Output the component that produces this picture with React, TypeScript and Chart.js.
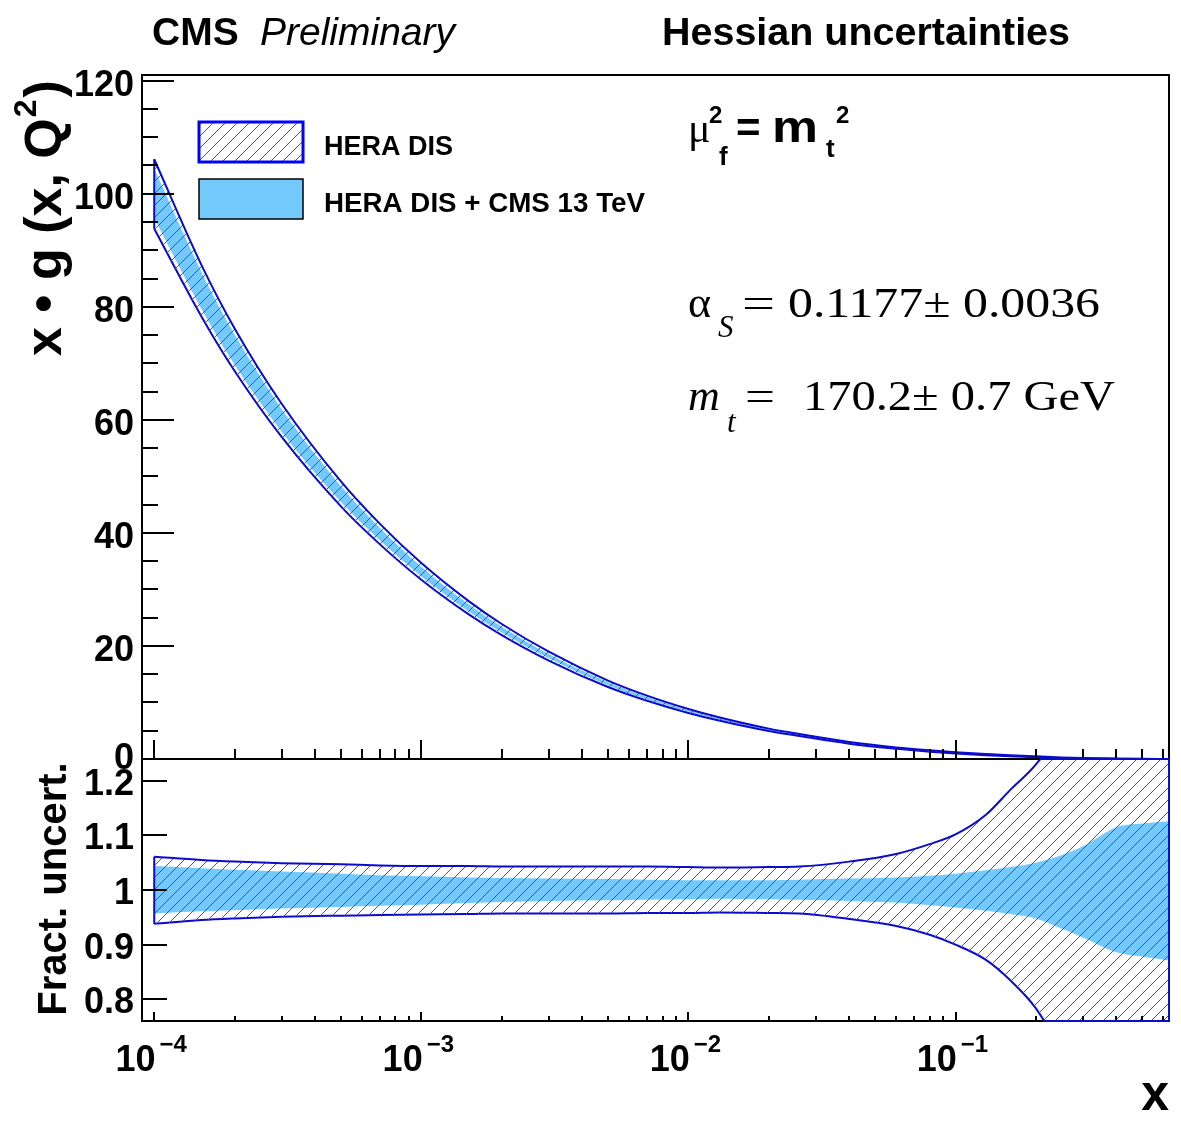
import React, { useEffect, useRef } from "react";
import { Chart, registerables } from "chart.js";
Chart.register(...registerables);

const W = 1181;
const H = 1133;

// ---- data ----
const xValues = [1e-4, 1.5e-4, 2e-4, 3e-4, 5e-4, 7e-4, 1e-3, 1.5e-3, 2e-3, 3e-3, 5e-3, 7e-3, 1e-2, 1.3e-2, 2e-2, 2.6e-2, 4e-2, 6e-2, 8e-2, 0.1, 0.13, 0.16, 0.2, 0.25, 0.3, 0.4, 0.5, 0.63];
const xgCentral = [100, 82.9, 72.4, 59.9, 46.9, 39.8, 33.2, 26.8, 22.9, 18.2, 13.3, 10.75, 8.49, 7.09, 5.16, 4.25, 2.87, 1.93, 1.42, 1.09, 0.77, 0.56, 0.38, 0.22, 0.13, 0.045, 0.016, 0.005];
const heraUp = [1.061, 1.055, 1.052, 1.049, 1.047, 1.045, 1.044, 1.044, 1.043, 1.043, 1.043, 1.043, 1.042, 1.041, 1.042, 1.043, 1.052, 1.066, 1.084, 1.102, 1.138, 1.183, 1.23, 1.3, 1.4, 1.55, 1.7, 1.85];
const heraDown = [0.938, 0.945, 0.948, 0.951, 0.953, 0.954, 0.955, 0.956, 0.957, 0.957, 0.957, 0.958, 0.958, 0.959, 0.958, 0.957, 0.947, 0.934, 0.918, 0.9, 0.872, 0.835, 0.783, 0.7, 0.6, 0.45, 0.3, 0.15];
const cmsUp = [1.044, 1.04, 1.037, 1.034, 1.03, 1.027, 1.025, 1.023, 1.022, 1.021, 1.02, 1.019, 1.018, 1.018, 1.018, 1.019, 1.021, 1.023, 1.026, 1.03, 1.036, 1.042, 1.05, 1.064, 1.08, 1.115, 1.122, 1.126];
const cmsDown = [0.957, 0.961, 0.963, 0.966, 0.969, 0.971, 0.973, 0.976, 0.978, 0.98, 0.981, 0.982, 0.983, 0.984, 0.983, 0.982, 0.98, 0.977, 0.972, 0.968, 0.962, 0.956, 0.948, 0.929, 0.913, 0.886, 0.878, 0.871];

// axes / ticks
const xMin = 9e-5;
const xMax = 0.63;
const xMajorTicks = [1e-4, 1e-3, 1e-2, 1e-1];
const xMajorExp = ["\u22124", "\u22123", "\u22122", "\u22121"];
const xDecades = [-5, -4, -3, -2, -1, 0];
const xMinorMult = [2, 3, 4, 5, 6, 7, 8, 9];
const yTopMin = 0;
const yTopMax = 121;
const yTopMajor = [0, 20, 40, 60, 80, 100, 120];
const yTopMinor = [5, 10, 15, 25, 30, 35, 45, 50, 55, 65, 70, 75, 85, 90, 95, 105, 110, 115];
const yRatMin = 0.76;
const yRatMax = 1.24;
const yRatMajor = [0.8, 0.9, 1.0, 1.1, 1.2];
const yRatLabels = ["0.8", "0.9", "1", "1.1", "1.2"];

const legendLabels = ["HERA DIS", "HERA DIS + CMS 13 TeV"];

const OUTLINE = "#0b0bcc";
const HATCH_RGB = [70, 70, 255];
const BLUE = "rgb(116,201,252)";
const SANS = '"Liberation Sans", Arial, Helvetica, sans-serif';
const SERIF = '"Liberation Serif", "Times New Roman", serif';

function makeHatch(): CanvasPattern | string {
  const c = document.createElement("canvas");
  const s = 12;
  c.width = s;
  c.height = s;
  const g = c.getContext("2d")!;
  const img = g.createImageData(s, s);
  for (let j = 0; j < s; j++) {
    for (let i = 0; i < s; i++) {
      if ((i + j) % s === s - 1) {
        const k = (j * s + i) * 4;
        img.data[k] = HATCH_RGB[0];
        img.data[k + 1] = HATCH_RGB[1];
        img.data[k + 2] = HATCH_RGB[2];
        img.data[k + 3] = 255;
      }
    }
  }
  g.putImageData(img, 0, 0);
  const p = g.createPattern(c, "repeat");
  return p || "rgb(70,70,255)";
}

function txt(
  ctx: CanvasRenderingContext2D,
  s: string,
  x: number,
  y: number,
  font: string,
  opt: { align?: CanvasTextAlign; fit?: number; color?: string } = {}
) {
  ctx.save();
  ctx.font = font;
  ctx.fillStyle = opt.color || "#000";
  ctx.textBaseline = "alphabetic";
  if (opt.fit) {
    const w = ctx.measureText(s).width;
    ctx.translate(x, y);
    ctx.scale(opt.fit / w, 1);
    ctx.textAlign = "left";
    ctx.fillText(s, 0, 0);
  } else {
    ctx.textAlign = opt.align || "left";
    ctx.fillText(s, x, y);
  }
  ctx.restore();
}

function drawXTicks(ctx: CanvasRenderingContext2D, xs: any, y: number, majLen: number, minLen: number) {
  ctx.beginPath();
  for (const d of xDecades) {
    for (const k of [1, ...xMinorMult]) {
      const v = k * Math.pow(10, d);
      if (v <= xMin * 1.001 || v >= xMax * 0.999) continue;
      const px = Math.round(xs.getPixelForValue(v));
      const len = k === 1 ? majLen : minLen;
      ctx.moveTo(px, y);
      ctx.lineTo(px, y - len);
    }
  }
  ctx.stroke();
}

function leftEdge(ctx: CanvasRenderingContext2D, chart: any) {
  const up = chart.getDatasetMeta(0).data[0];
  const dn = chart.getDatasetMeta(1).data[0];
  const { top, bottom } = chart.chartArea;
  ctx.save();
  ctx.strokeStyle = OUTLINE;
  ctx.lineWidth = 2;
  ctx.beginPath();
  ctx.moveTo(up.x, Math.max(top, up.y));
  ctx.lineTo(dn.x, Math.min(bottom, dn.y));
  ctx.stroke();
  ctx.restore();
}

const topDecor = {
  id: "topDecor",
  afterDatasetsDraw(chart: any) {
    const ctx = chart.ctx as CanvasRenderingContext2D;
    const { left, right, top, bottom } = chart.chartArea;
    const xs = chart.scales.x;
    const ys = chart.scales.y;
    leftEdge(ctx, chart);
    ctx.save();
    ctx.strokeStyle = "#000";
    ctx.lineWidth = 2;
    ctx.strokeRect(left, top, right - left, bottom - top);
    ctx.beginPath();
    for (const v of yTopMajor) {
      const py = Math.round(ys.getPixelForValue(v));
      ctx.moveTo(left, py);
      ctx.lineTo(left + 32, py);
    }
    for (const v of yTopMinor) {
      const py = Math.round(ys.getPixelForValue(v));
      ctx.moveTo(left, py);
      ctx.lineTo(left + 16, py);
    }
    ctx.stroke();
    drawXTicks(ctx, xs, bottom, 19, 10);
    ctx.restore();
    for (const v of yTopMajor) {
      const py = ys.getPixelForValue(v);
      txt(ctx, String(v), left - 8, Math.min(py + 15, 769), `bold 36px ${SANS}`, { align: "right" });
    }
    // titles
    txt(ctx, "CMS", 152, 45, `bold 39px ${SANS}`);
    txt(ctx, "Preliminary", 260, 45, `italic 39px ${SANS}`);
    txt(ctx, "Hessian uncertainties", 662, 45, `bold 39px ${SANS}`, { fit: 408 });
    // y-axis title (rotated)
    ctx.save();
    ctx.translate(61, 356);
    ctx.rotate(-Math.PI / 2);
    ctx.fillStyle = "#000";
    ctx.textBaseline = "alphabetic";
    ctx.font = `bold 52px ${SANS}`;
    const a = "x \u2022 g (x, Q";
    ctx.fillText(a, 0, 0);
    const wa = ctx.measureText(a).width;
    ctx.font = `bold 32px ${SANS}`;
    ctx.fillText("2", wa + 1, -25);
    const w2 = ctx.measureText("2").width;
    ctx.font = `bold 52px ${SANS}`;
    ctx.fillText(")", wa + w2 + 3, 0);
    ctx.restore();
    // legend
    const pat = (chart.data.datasets[0] as any).backgroundColor;
    ctx.save();
    ctx.fillStyle = "#fff";
    ctx.fillRect(199, 122, 104, 40);
    ctx.fillStyle = pat;
    ctx.fillRect(199, 122, 104, 40);
    ctx.strokeStyle = "#0000ff";
    ctx.lineWidth = 3;
    ctx.strokeRect(199, 122, 104, 40);
    ctx.fillStyle = BLUE;
    ctx.fillRect(199, 179, 104, 40);
    ctx.strokeStyle = "#000";
    ctx.lineWidth = 1.5;
    ctx.strokeRect(199, 179, 104, 40);
    ctx.restore();
    txt(ctx, legendLabels[0], 324, 155, `bold 27px ${SANS}`);
    txt(ctx, legendLabels[1], 324, 212, `bold 27px ${SANS}`, { fit: 321 });
    // mu_f^2 = m_t^2
    txt(ctx, "\u03bc", 688, 142, `42px ${SERIF}`);
    txt(ctx, "2", 709, 123, `bold 24px ${SANS}`);
    txt(ctx, "f", 719, 165, `bold 26px ${SANS}`);
    txt(ctx, "=", 736, 142, `bold 42px ${SANS}`);
    txt(ctx, "m", 772, 142, `bold 44px ${SANS}`, { fit: 46 });
    txt(ctx, "t", 826, 157, `bold 26px ${SANS}`);
    txt(ctx, "2", 836, 123, `bold 24px ${SANS}`);
    // alpha_s line
    txt(ctx, "\u03b1", 688, 317, `44px ${SERIF}`);
    txt(ctx, "S", 718, 337, `italic 31px ${SERIF}`);
    txt(ctx, "=", 742, 317, `42px ${SERIF}`, { fit: 33 });
    txt(ctx, "0.1177\u00b1 0.0036", 788, 317, `42px ${SERIF}`, { fit: 312 });
    // m_t line
    txt(ctx, "m", 688, 410, `italic 44px ${SERIF}`);
    txt(ctx, "t", 727, 432, `italic 31px ${SERIF}`);
    txt(ctx, "=", 745, 410, `42px ${SERIF}`, { fit: 30 });
    txt(ctx, "170.2\u00b1 0.7 GeV", 803, 410, `42px ${SERIF}`, { fit: 312 });
  },
};

function crossX(meta: any, yEdge: number, above: boolean): number | null {
  const pts = meta.data;
  for (let i = 1; i < pts.length; i++) {
    const p0 = pts[i - 1];
    const p1 = pts[i];
    const out0 = above ? p0.y < yEdge : p0.y > yEdge;
    const out1 = above ? p1.y < yEdge : p1.y > yEdge;
    if (!out0 && out1) {
      return p0.x + ((yEdge - p0.y) * (p1.x - p0.x)) / (p1.y - p0.y);
    }
  }
  return null;
}

const bottomDecor = {
  id: "bottomDecor",
  afterDatasetsDraw(chart: any) {
    const ctx = chart.ctx as CanvasRenderingContext2D;
    const { left, right, top, bottom } = chart.chartArea;
    const xs = chart.scales.x;
    const ys = chart.scales.y;
    leftEdge(ctx, chart);
    ctx.save();
    ctx.strokeStyle = "#000";
    ctx.lineWidth = 2;
    ctx.strokeRect(left, top, right - left, bottom - top);
    ctx.beginPath();
    for (const v of yRatMajor) {
      const py = Math.round(ys.getPixelForValue(v));
      ctx.moveTo(left, py);
      ctx.lineTo(left + 25, py);
    }
    ctx.stroke();
    drawXTicks(ctx, xs, bottom, 9, 5);
    const mUp = chart.getDatasetMeta(0);
    const mDn = chart.getDatasetMeta(1);
    const cu = crossX(mUp, top, true);
    const cd = crossX(mDn, bottom, false);
    ctx.strokeStyle = OUTLINE;
    ctx.lineWidth = 2;
    ctx.beginPath();
    if (cu !== null) {
      ctx.moveTo(cu, top);
      ctx.lineTo(right, top);
    }
    if (cd !== null) {
      ctx.moveTo(cd, bottom);
      ctx.lineTo(right, bottom);
    }
    const lu = mUp.data[mUp.data.length - 1];
    const ld = mDn.data[mDn.data.length - 1];
    ctx.moveTo(right, Math.max(top, lu.y));
    ctx.lineTo(right, Math.min(bottom, ld.y));
    ctx.stroke();
    ctx.restore();
    yRatMajor.forEach((v, i) => {
      const py = ys.getPixelForValue(v);
      txt(ctx, yRatLabels[i], left - 8, py + 14, `bold 36px ${SANS}`, { align: "right" });
    });
    ctx.save();
    xMajorTicks.forEach((v, i) => {
      const px = xs.getPixelForValue(v);
      ctx.font = `bold 36px ${SANS}`;
      const w10 = ctx.measureText("10").width;
      ctx.font = `bold 24px ${SANS}`;
      const we = ctx.measureText(xMajorExp[i]).width;
      const total = w10 + 4 + we;
      const x0 = px - 3 - total / 2;
      txt(ctx, "10", x0, 1071, `bold 36px ${SANS}`);
      txt(ctx, xMajorExp[i], x0 + w10 + 4, 1052, `bold 24px ${SANS}`);
    });
    ctx.restore();
    txt(ctx, "x", 1169, 1110, `bold 50px ${SANS}`, { align: "right" });
    ctx.save();
    ctx.font = `bold 40px ${SANS}`;
    const t = "Fract. uncert.";
    const wt = ctx.measureText(t).width;
    ctx.translate(66, 889 + wt / 2);
    ctx.rotate(-Math.PI / 2);
    ctx.fillStyle = "#000";
    ctx.textBaseline = "alphabetic";
    ctx.fillText(t, 0, 0);
    ctx.restore();
  },
};

function bandDatasets(hatch: CanvasPattern | string, scale: number[] | null) {
  const mk = (arr: number[]) => xValues.map((x, i) => ({ x, y: scale ? scale[i] * arr[i] : arr[i] }));
  const common = { pointRadius: 0, cubicInterpolationMode: "monotone" as const, clip: 0 };
  return [
    { label: "HERA DIS", data: mk(heraUp), borderColor: OUTLINE, borderWidth: 2, backgroundColor: hatch, fill: "+1", ...common },
    { label: "HERA DIS low", data: mk(heraDown), borderColor: OUTLINE, borderWidth: 2, fill: false, ...common },
    { label: "HERA DIS + CMS 13 TeV", data: mk(cmsUp), borderColor: "rgba(0,0,0,0)", borderWidth: 0, backgroundColor: BLUE, fill: "+1", ...common },
    { label: "CMS low", data: mk(cmsDown), borderColor: "rgba(0,0,0,0)", borderWidth: 0, fill: false, ...common },
  ];
}

function baseOptions(pad: any, yMin: number, yMax: number) {
  return {
    animation: false as const,
    responsive: false,
    devicePixelRatio: 1,
    events: [] as any[],
    layout: { padding: pad },
    scales: {
      x: { type: "logarithmic" as const, min: xMin, max: xMax, display: false },
      y: { type: "linear" as const, min: yMin, max: yMax, display: false },
    },
    plugins: {
      legend: { display: false },
      tooltip: { enabled: false },
      title: { display: false },
    },
  };
}

export default function App() {
  const topRef = useRef<HTMLCanvasElement>(null);
  const botRef = useRef<HTMLCanvasElement>(null);
  useEffect(() => {
    const hatch = makeHatch();
    const top = new Chart(topRef.current!, {
      type: "line",
      data: { datasets: bandDatasets(hatch, xgCentral) as any },
      options: baseOptions({ left: 142, right: W - 1169, top: 75, bottom: H - 759 }, yTopMin, yTopMax) as any,
      plugins: [topDecor],
    });
    const bot = new Chart(botRef.current!, {
      type: "line",
      data: { datasets: bandDatasets(hatch, null) as any },
      options: baseOptions({ left: 142, right: W - 1169, top: 759, bottom: H - 1021 }, yRatMin, yRatMax) as any,
      plugins: [bottomDecor],
    });
    return () => {
      top.destroy();
      bot.destroy();
    };
  }, []);
  const cs: React.CSSProperties = { position: "absolute", left: 0, top: 0, width: W, height: H };
  return (
    <div style={{ position: "absolute", left: 0, top: 0, width: W, height: H, background: "#fff" }}>
      <canvas ref={topRef} width={W} height={H} style={cs} />
      <canvas ref={botRef} width={W} height={H} style={cs} />
    </div>
  );
}
